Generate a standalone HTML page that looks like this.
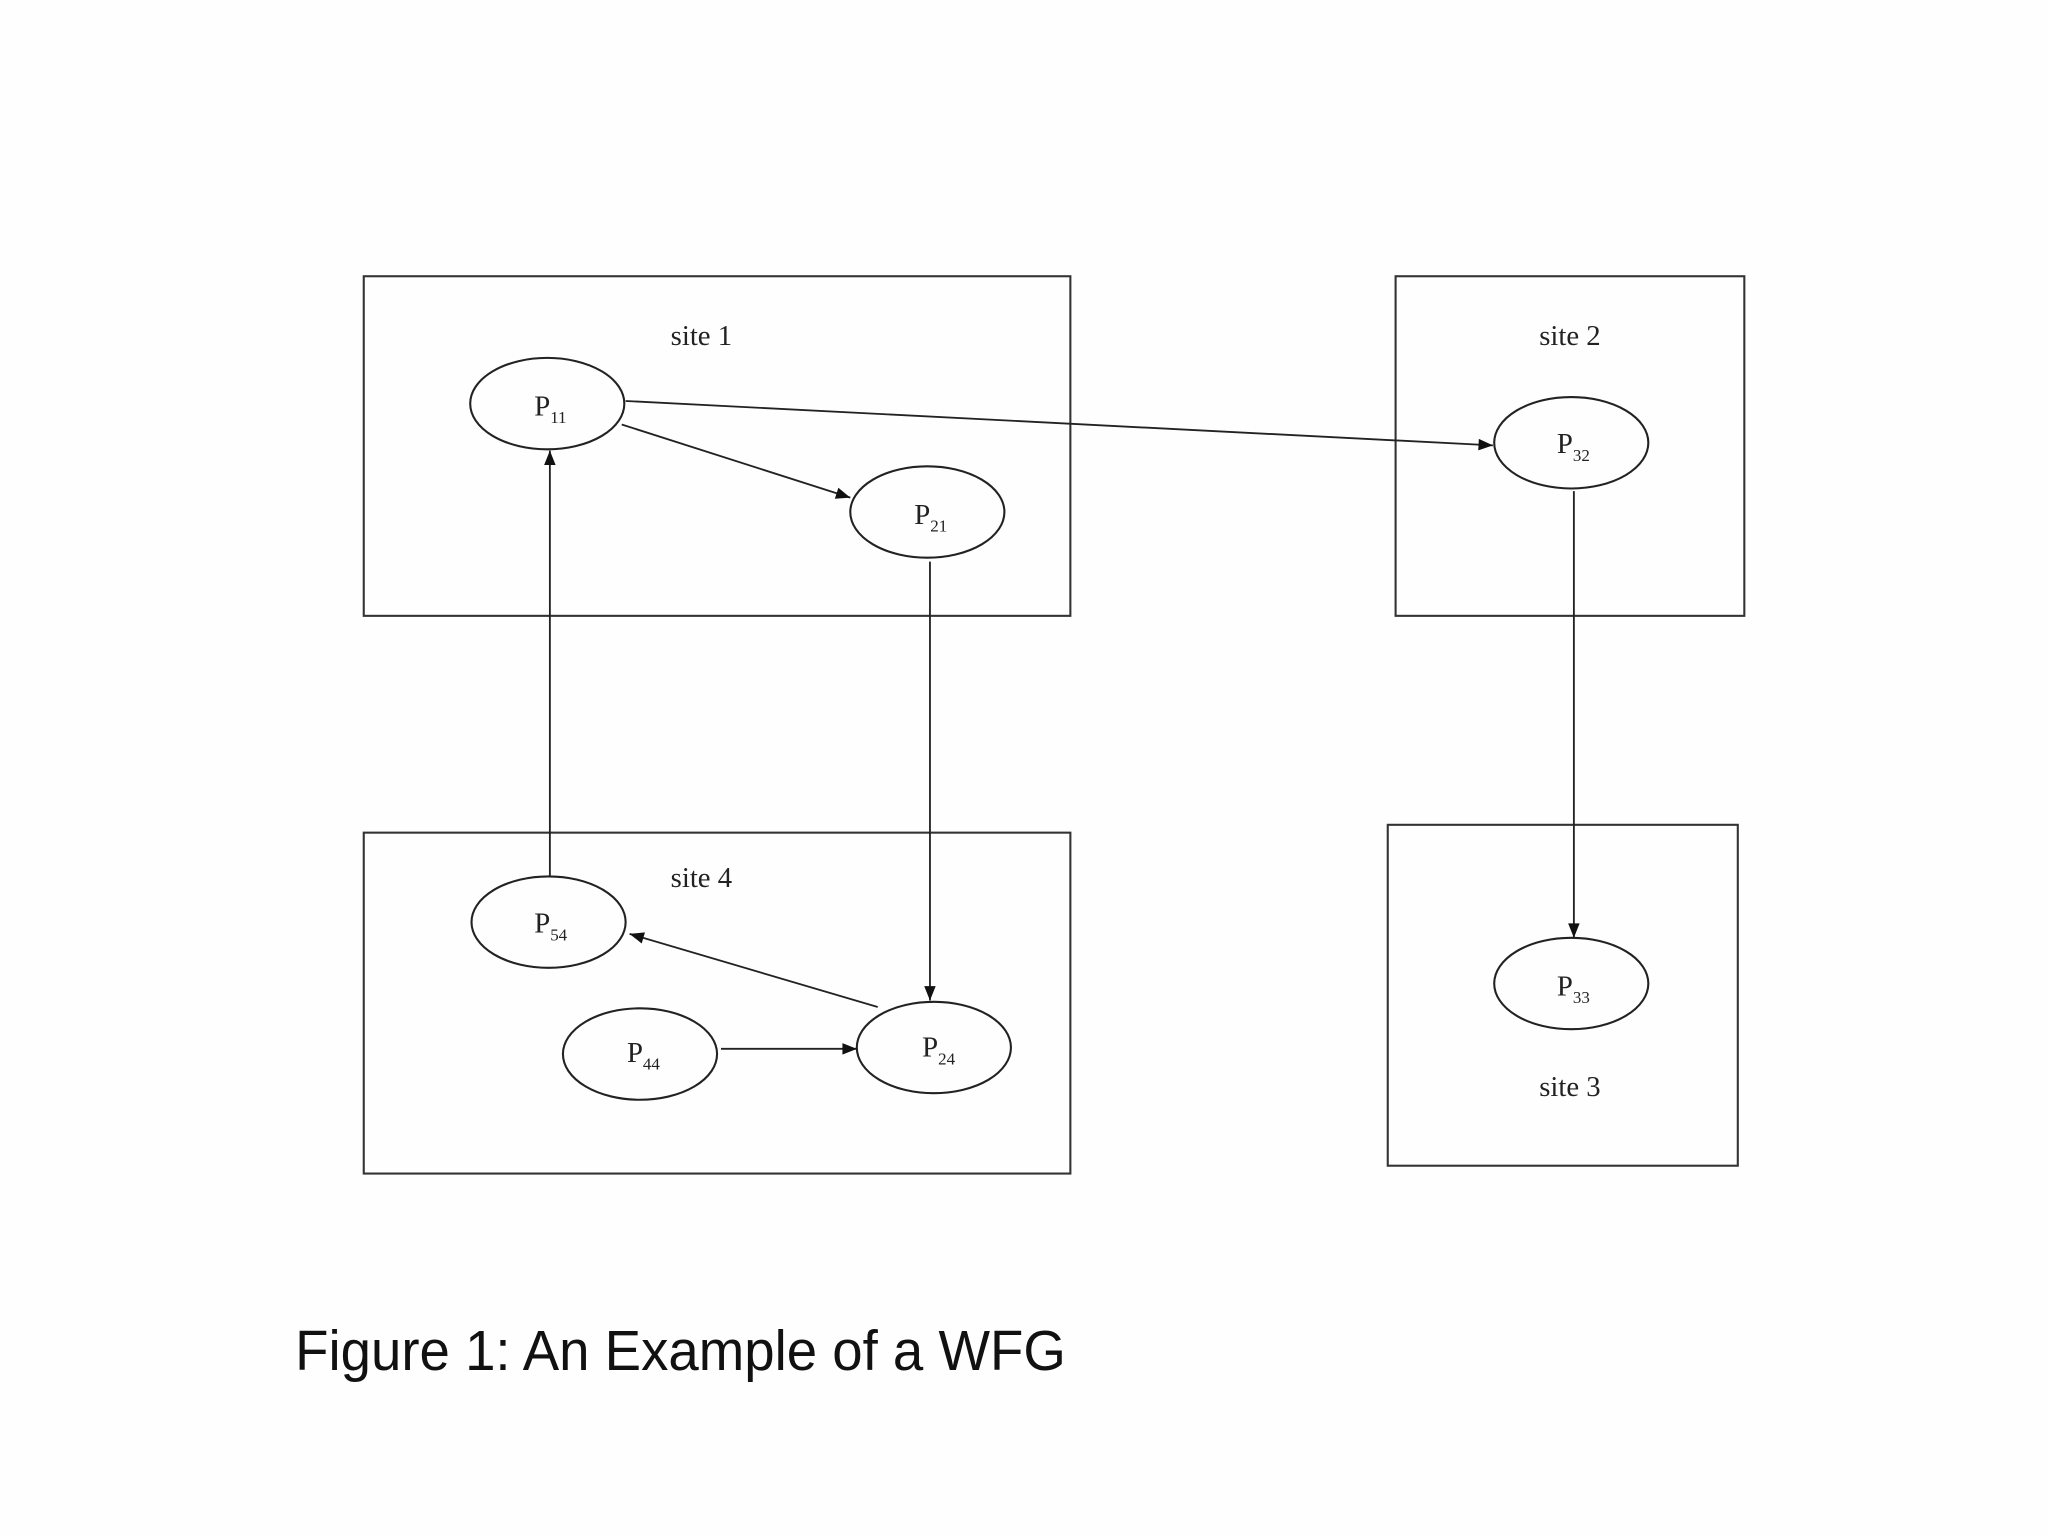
<!DOCTYPE html>
<html><head><meta charset="utf-8"><style>
html,body{margin:0;padding:0;background:#fefefe;}
svg{display:block;}
</style></head><body>
<svg width="2048" height="1536" viewBox="0 0 1568 1176" preserveAspectRatio="none" xmlns="http://www.w3.org/2000/svg">
<defs>
<marker id="a" viewBox="0 0 10 10" refX="10" refY="5" markerWidth="18" markerHeight="11" markerUnits="userSpaceOnUse" orient="auto">
<path d="M0,1 L10,5 L0,9 z" fill="#111"/>
</marker>
</defs>
<rect width="1568" height="1176" fill="#fefefe"/>
<g fill="none" stroke="#333" stroke-width="1.6">
<rect x="278.5" y="211.5" width="541" height="260"/>
<rect x="1068.5" y="211.5" width="267" height="260"/>
<rect x="278.5" y="637.5" width="541" height="261"/>
<rect x="1062.5" y="631.5" width="268" height="261"/>
</g>
<g fill="none" stroke="#222" stroke-width="1.6">
<ellipse cx="419" cy="309" rx="59" ry="35"/>
<ellipse cx="710" cy="392" rx="59" ry="35"/>
<ellipse cx="1203" cy="339" rx="59" ry="35"/>
<ellipse cx="420" cy="706" rx="59" ry="35"/>
<ellipse cx="490" cy="807" rx="59" ry="35"/>
<ellipse cx="715" cy="802" rx="59" ry="35"/>
<ellipse cx="1203" cy="753" rx="59" ry="35"/>
</g>
<g stroke="#222" stroke-width="1.4" marker-end="url(#a)">
<line x1="479" y1="307" x2="1143" y2="341"/>
<line x1="476" y1="325" x2="651" y2="381"/>
<line x1="421" y1="671" x2="421" y2="345"/>
<line x1="712" y1="430" x2="712" y2="766"/>
<line x1="1205" y1="376" x2="1205" y2="718"/>
<line x1="672" y1="771" x2="482" y2="715"/>
<line x1="552" y1="803" x2="656" y2="803"/>
</g>
<g font-family="Liberation Serif, serif" font-size="22" fill="#222" text-anchor="middle">
<text x="537" y="264">site 1</text>
<text x="1202" y="264">site 2</text>
<text x="537" y="679">site 4</text>
<text x="1202" y="839">site 3</text>
</g>
<g font-family="Liberation Serif, serif" font-size="22" fill="#222">
<text x="409" y="318">P<tspan font-size="13" dy="6">11</tspan></text>
<text x="700" y="401">P<tspan font-size="13" dy="6">21</tspan></text>
<text x="1192" y="347">P<tspan font-size="13" dy="6">32</tspan></text>
<text x="409" y="714">P<tspan font-size="13" dy="6">54</tspan></text>
<text x="480" y="813">P<tspan font-size="13" dy="6">44</tspan></text>
<text x="706" y="809">P<tspan font-size="13" dy="6">24</tspan></text>
<text x="1192" y="762">P<tspan font-size="13" dy="6">33</tspan></text>
</g>
<text x="226" y="1049" font-family="Liberation Sans, Arial, sans-serif" font-size="43" fill="#111" textLength="590" lengthAdjust="spacingAndGlyphs">Figure 1: An Example of a WFG</text>
</svg>
</body></html>
